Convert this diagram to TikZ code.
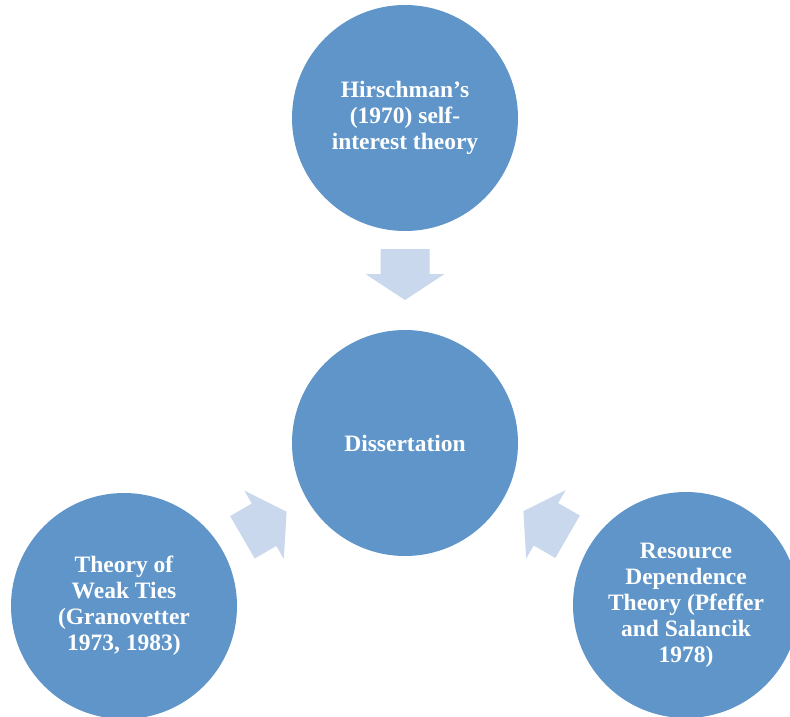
\documentclass[tikz,border=0pt]{standalone}
\usepackage{fontspec}
\setmainfont{Liberation Serif}
\usetikzlibrary{calc}
\definecolor{discblue}{HTML}{5F95C8}
\definecolor{arrowblue}{HTML}{C9D8EC}
% block arrow between two named nodes, pointing from #1 to #2 at angle #3,
% moved #4 along its own axis from the midpoint
\newcommand\blockflow[4]{%
  \begin{scope}[shift={($(#1)!0.5!(#2)$)}, rotate=#3, xshift=#4]
    \fill[arrowfill] (-25.5,-24.5) -- (-0.5,-24.5) -- (-0.5,-39.5) -- (25.5,0)
      -- (-0.5,39.5) -- (-0.5,24.5) -- (-25.5,24.5) -- cycle;
  \end{scope}}
\begin{document}
\begin{tikzpicture}[x=1pt,y=-1pt,
  theory/.style={circle, fill=discblue, minimum size=226pt, inner sep=0pt,
    text=white, align=center, font=\fontsize{23.5}{26}\selectfont\bfseries},
  arrowfill/.style={fill=arrowblue}]
\clip (0,0) rectangle (790,717);
\fill[white] (0,0) rectangle (790,717);

\node[theory] (top) at (405,118) {Hirschman’s\\(1970) self-\\interest theory};
\node[theory] (ctr) at (405,443) {Dissertation};
\node[theory] (left) at (124,606) {Theory of\\Weak Ties\\(Granovetter\\1973, 1983)};
\node[theory] (right) at (686,605) {Resource\\Dependence\\Theory (Pfeffer\\and Salancik\\1978)};

\blockflow{top}{ctr}{-90}{-6pt}
\blockflow{left}{ctr}{30}{0pt}
\blockflow{right}{ctr}{150}{0pt}
\end{tikzpicture}
\end{document}
